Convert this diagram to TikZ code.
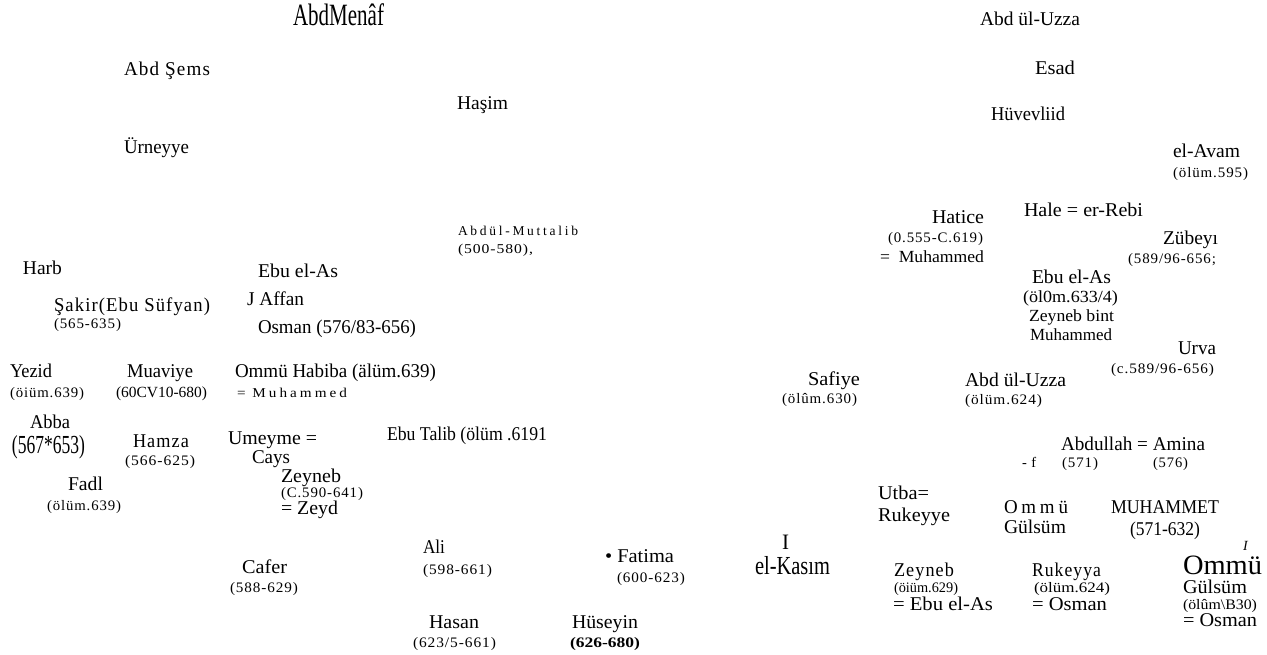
\documentclass[tikz,border=0pt]{standalone}
\usepackage{fontspec}
\usepackage{graphicx}
\setmainfont{Liberation Serif}
\newfontfamily\spc[LetterSpace=20]{Liberation Serif}
\newfontfamily\lsp[LetterSpace=6]{Liberation Serif}
\tikzset{lbl/.style={anchor=base west, inner sep=0pt, outer sep=0pt, text=black}}
\newcommand\gtx[6]{\node[lbl] (#1) at (#2,#3) {\fontsize{#5}{#5}\selectfont\resizebox{#4pt}{\height}{#6}};}
\newcommand\gpl[5]{\node[lbl] (#1) at (#2,#3) {\fontsize{#4}{#4}\selectfont #5};}
\begin{document}
\begin{tikzpicture}[x=1pt,y=-1pt]
\useasboundingbox[fill=white] (0,0) rectangle (1267,654);
% left block
\gtx{abdmenaf}{293}{25}{91}{31}{AbdMenâf}
\gtx{abdsems}{124}{75}{86}{19.5}{\lsp Abd Şems}
\gtx{hasim}{457}{109}{51}{19.5}{Haşim}
\gtx{urneyye}{124}{153}{65}{19.5}{Ürneyye}
\gtx{muttalib}{458}{235}{120}{13.5}{\spc Abdül-Muttalib}
\gtx{muttalibd}{458}{253}{75}{13.5}{\lsp (500-580),}
\gtx{harb}{23}{274}{39}{19.5}{Harb}
\gtx{ebuelas}{258}{277}{80}{19.5}{Ebu el-As}
\gtx{sakir}{54}{311}{156}{19.5}{\lsp Şakir(Ebu Süfyan)}
\gtx{sakird}{54}{328}{67}{14.5}{\lsp (565-635)}
\gtx{affan}{247}{305}{57}{19.5}{J Affan}
\gtx{osman}{258}{333}{158}{19.5}{Osman (576/83-656)}
\gtx{yezid}{10}{377}{42}{19.5}{Yezid}
\gtx{yezidd}{10}{397}{74}{14.5}{\lsp (öiüm.639)}
\gtx{muaviye}{127}{377}{66}{19.5}{Muaviye}
\gtx{muaviyed}{116}{397}{91}{15.5}{(60CV10-680)}
\gtx{habiba}{235}{377}{201}{19.5}{Ommü Habiba (älüm.639)}
\gtx{habibam}{237}{397}{110}{13.5}{\spc = Muhammed}
\gtx{abba}{30}{428}{40}{19.5}{Abba}
\gtx{abbad}{12}{453}{73}{26}{(567*653)}
\gtx{hamza}{133}{447}{56}{19.5}{\lsp Hamza}
\gtx{hamzad}{125}{465}{70}{14.5}{\lsp (566-625)}
\gtx{umeyme}{228}{444}{89}{19.5}{Umeyme =}
\gtx{cays}{252}{463}{38}{19.5}{Cays}
\gtx{zeyneba}{281}{482}{60}{19.5}{Zeyneb}
\gtx{zeynebad}{281}{497}{82}{14.5}{\lsp (C.590-641)}
\gtx{zeyd}{281}{514}{57}{19.5}{= Zeyd}
\gtx{fadl}{68}{490}{35}{19.5}{Fadl}
\gtx{fadld}{47}{510}{74}{14.5}{\lsp (ölüm.639)}
\gtx{ebutalib}{387}{440}{160}{19.5}{Ebu Talib (ölüm .6191}
\gtx{cafer}{242}{573}{45}{19.5}{Cafer}
\gtx{caferd}{230}{592}{68}{14.5}{\lsp (588-629)}
\gtx{ali}{423}{553}{22}{19.5}{Ali}
\gtx{alid}{423}{574}{69}{14.5}{\lsp (598-661)}
\gtx{fatima}{605}{562}{69}{19.5}{\textbullet\ Fatima}
\gtx{fatimad}{617}{582}{68}{14.5}{\lsp (600-623)}
\gtx{kasimi}{782}{549}{7}{22}{I}
\gtx{kasim}{755}{574}{75}{26}{el-Kasım}
\gtx{hasan}{429}{628}{50}{19.5}{Hasan}
\gtx{hasand}{413}{647}{83}{14.5}{\lsp (623/5-661)}
\gtx{huseyin}{572}{628}{66}{19.5}{Hüseyin}
\gtx{huseyind}{570}{647}{70}{14.5}{\bfseries (626-680)}
% right block
\gtx{uzzaa}{980}{25}{100}{19.5}{Abd ül-Uzza}
\gtx{esad}{1035}{74}{40}{19.5}{Esad}
\gtx{huvevlid}{991}{120}{74}{19.5}{Hüvevliid}
\gtx{avam}{1173}{157}{67}{19.5}{el-Avam}
\gtx{avamd}{1173}{177}{75}{14.5}{\lsp (ölüm.595)}
\gtx{hale}{1024}{216}{119}{19.5}{Hale = er-Rebi}
\gtx{hatice}{932}{223}{52}{19.5}{Hatice}
\gtx{haticed}{888}{242}{95}{14.5}{\lsp (0.555-C.619)}
\gtx{haticem}{880}{262}{104}{17}{=\ \ Muhammed}
\gtx{zubeyr}{1163}{244}{55}{19.5}{Zübeyı}
\gtx{zubeyrd}{1128}{263}{88}{14.5}{\lsp (589/96-656;}
\gtx{ebuelasb}{1032}{283}{79}{19.5}{Ebu el-As}
\gtx{ebuelasbd}{1023}{302}{95}{17}{(öl0m.633/4)}
\gtx{zbint}{1029}{321}{85}{17}{Zeyneb bint}
\gtx{zbintm}{1030}{340}{82}{17}{Muhammed}
\gtx{urva}{1178}{354}{38}{19.5}{Urva}
\gtx{urvad}{1111}{373}{103}{14.5}{\lsp (c.589/96-656)}
\gtx{safiye}{808}{385}{52}{19.5}{Safiye}
\gtx{safiyed}{782}{403}{75}{14.5}{\lsp (ölûm.630)}
\gtx{uzzab}{965}{386}{101}{19.5}{Abd ül-Uzza}
\gtx{uzzabd}{965}{404}{77}{14.5}{\lsp (ölüm.624)}
\gtx{abdullah}{1061}{450}{144}{19.5}{Abdullah = Amina}
\gpl{ef}{1022}{467}{14.5}{\lsp - f}
\gtx{abdullahd}{1062}{467}{36}{14.5}{\lsp (571)}
\gtx{aminad}{1153}{467}{35}{14.5}{\lsp (576)}
\gtx{utba}{878}{499}{51}{19.5}{Utba=}
\gtx{rukeyye}{878}{521}{72}{19.5}{Rukeyye}
\gtx{ommua}{1004}{513}{64}{19.5}{\spc Ommü}
\gtx{gulsuma}{1004}{533}{62}{19.5}{Gülsüm}
\gtx{muhammet}{1111}{513}{108}{19.5}{MUHAMMET}
\gtx{muhammetd}{1130}{535}{70}{19.5}{(571-632)}
\gtx{zeynebb}{894}{576}{60}{19.5}{\lsp Zeyneb}
\gtx{zeynebbd}{894}{592}{64}{14.5}{(öiüm.629)}
\gtx{zeynebbm}{893}{610}{100}{19.5}{= Ebu el-As}
\gtx{rukeyya}{1032}{576}{69}{19.5}{\lsp Rukeyya}
\gtx{rukeyyad}{1034}{592}{76}{14.5}{(ölüm.624)}
\gtx{rukeyyam}{1032}{610}{75}{19.5}{= Osman}
\gpl{ommui}{1243}{550}{14}{\itshape I}
\gtx{ommub}{1183}{574}{79}{28}{Ommü}
\gtx{gulsumb}{1183}{593}{64}{19.5}{Gülsüm}
\gtx{gulsumbd}{1183}{609}{74}{14.5}{(ölûm\textbackslash B30)}
\gtx{gulsumbm}{1183}{626}{74}{19.5}{= Osman}
\end{tikzpicture}
\end{document}
